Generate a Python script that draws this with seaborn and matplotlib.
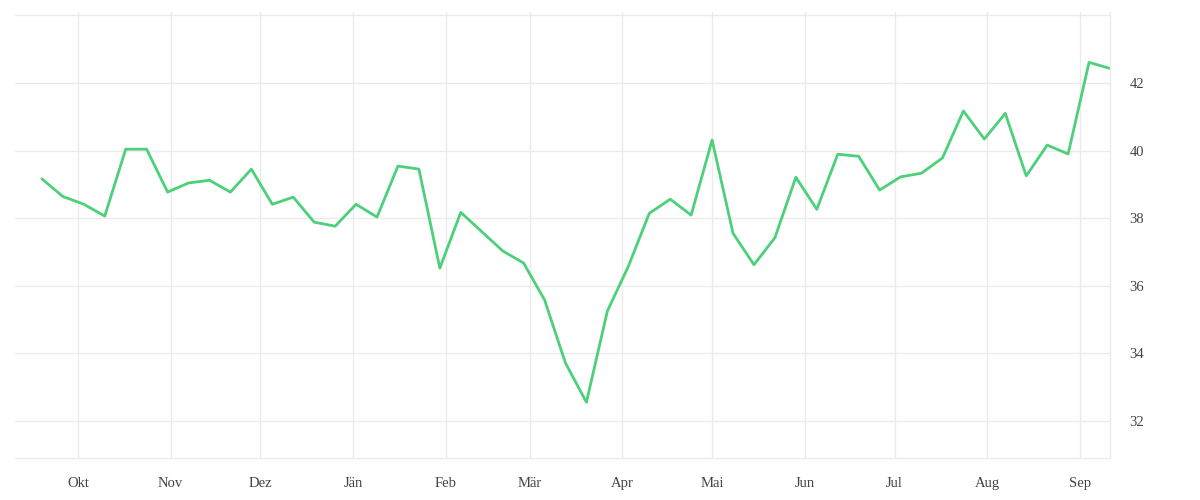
import pandas as pd
import matplotlib
matplotlib.use('Agg')
import matplotlib.pyplot as plt
import matplotlib.dates as mdates
import seaborn as sns

# weekly values, 52 weeks
start_date = '2022-09-19'
values = [39.16, 38.64, 38.41, 38.06, 40.04, 40.04, 38.77, 39.04, 39.12, 38.77,
          39.45, 38.41, 38.62, 37.88, 37.76, 38.41, 38.03, 39.54, 39.45, 36.52,
          38.17, 37.60, 37.03, 36.67, 35.58, 33.71, 32.55, 35.25, 36.57, 38.14,
          38.56, 38.09, 40.31, 37.55, 36.62, 37.42, 39.21, 38.26, 39.89, 39.83,
          38.83, 39.22, 39.33, 39.78, 41.17, 40.34, 41.10, 39.25, 40.16, 39.90,
          42.61, 42.43]
month_labels = ['Okt', 'Nov', 'Dez', 'Jän', 'Feb', 'Mär', 'Apr', 'Mai',
                'Jun', 'Jul', 'Aug', 'Sep']
y_ticks = [32, 34, 36, 38, 40, 42, 44]

df = pd.DataFrame({
    'date': pd.date_range(start_date, periods=len(values), freq='7D'),
    'value': values,
})

sns.set_style('white')
plt.rcParams['font.family'] = ['Liberation Serif', 'DejaVu Serif']

grid_color = '#ebebeb'
text_color = '#444444'

fig = plt.figure(figsize=(12, 5), dpi=100)
ax = fig.add_axes([15 / 1200, 1 - 458 / 500, 1095 / 1200, 446 / 500])

sns.lineplot(data=df, x='date', y='value', color='#4cd07a', linewidth=2.0, ax=ax)

ax.set_xlim(pd.Timestamp('2022-09-10'), pd.Timestamp('2023-09-11'))
ax.set_ylim(30.9, 44.1)

month_starts = pd.date_range('2022-10-01', periods=len(month_labels), freq='MS')
ax.set_xticks(month_starts)
ax.set_xticklabels(month_labels)
ax.set_yticks(y_ticks)
ax.set_yticklabels([str(t) if t < 44 else '' for t in y_ticks])

ax.grid(True, color=grid_color, linewidth=1)
ax.set_axisbelow(True)
ax.yaxis.tick_right()
ax.tick_params(axis='y', length=0, pad=14, labelsize=10.5, labelcolor=text_color)
ax.tick_params(axis='x', length=7.5, width=1, color=grid_color, pad=6,
               labelsize=10.5, labelcolor=text_color, direction='out')

for side in ['top', 'left']:
    ax.spines[side].set_visible(False)
for side in ['bottom', 'right']:
    ax.spines[side].set_color(grid_color)
    ax.spines[side].set_linewidth(1)

ax.set_xlabel('')
ax.set_ylabel('')

fig.savefig('out.png', dpi=100)
